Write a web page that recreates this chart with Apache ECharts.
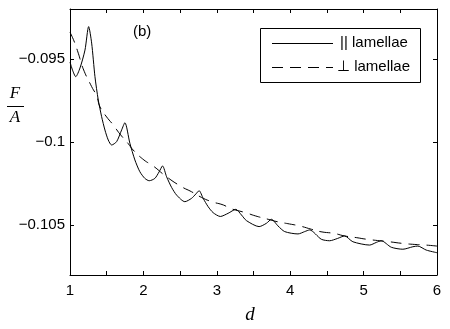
<!DOCTYPE html>
<html><head><meta charset="utf-8">
<script src="https://cdn.jsdelivr.net/npm/echarts@6/dist/echarts.min.js"></script>
<style>html,body{margin:0;padding:0;background:#fff}#c{width:450px;height:329px}</style>
</head><body><div id="c"></div>
<script>
// || lamellae (solid)
const parD = [1.0,1.034,1.078,1.136,1.204,1.254,1.295,1.340,1.385,1.431,1.476,1.521,1.567,1.635,1.703,1.748,
  1.816,1.884,1.952,2.020,2.079,2.156,2.215,2.261,2.316,2.384,2.452,2.565,2.656,2.714,2.759,
  2.814,2.882,2.950,3.048,3.154,3.259,3.336,3.404,3.576,3.676,3.744,3.834,3.925,4.106,4.197,4.265,
  4.424,4.537,4.646,4.741,4.854,5.082,5.173,5.241,5.377,5.535,5.671,5.739,5.853,6.0];
const parF = [-0.09519,-0.09567,-0.09607,-0.09555,-0.09447,-0.09306,-0.09405,-0.09607,-0.09747,-0.09848,-0.09928,-0.09988,-0.10018,-0.09998,-0.09928,-0.09884,
  -0.10008,-0.10108,-0.10179,-0.10219,-0.10233,-0.10219,-0.10179,-0.10144,-0.10209,-0.10273,-0.10319,-0.10359,-0.10339,-0.10313,-0.10293,
  -0.10339,-0.10389,-0.10425,-0.10448,-0.10429,-0.10405,-0.10439,-0.10473,-0.10509,-0.10489,-0.10465,-0.10505,-0.10539,-0.10553,-0.10539,-0.10529,
  -0.10585,-0.10594,-0.10580,-0.10565,-0.10600,-0.10620,-0.10604,-0.10594,-0.10633,-0.10645,-0.10630,-0.10626,-0.10650,-0.10666];
// ⊥ lamellae (dashed)
const perD = [1.0,1.054,1.113,1.18,1.295,1.363,1.408,1.49,1.59,1.68,1.79,1.86,2.007,2.133,2.315,2.52,2.655,2.79,2.93,
  3.09,3.18,3.39,3.53,3.70,3.83,3.99,4.13,4.29,4.42,4.6,4.74,4.9,5.04,5.22,5.35,5.53,5.69,5.85,6.0];
const perF = [-0.0934,-0.09392,-0.09466,-0.0956,-0.09667,-0.09723,-0.09788,-0.09844,-0.09898,-0.09952,-0.10008,-0.10048,-0.10108,-0.10144,-0.10209,-0.10269,-0.10299,-0.10333,-0.10359,
  -0.10379,-0.10399,-0.10425,-0.10445,-0.10465,-0.1048,-0.10493,-0.10505,-0.10525,-0.1054,-0.1055,-0.10565,-0.10575,-0.10585,-0.10594,-0.106,-0.1061,-0.10616,-0.1062,-0.10626];
const xTickLabels = [1,2,3,4,5,6];
const yTickLabels = [-0.105,-0.1,-0.095];
const seriesNames = ['|| lamellae','\u22A5 lamellae'];

const chart = echarts.init(document.getElementById('c'), null, {renderer:'canvas'});
const sans = 'Liberation Sans, Arial, sans-serif';
const serif = 'Liberation Serif, Times New Roman, serif';
const fmtY = v => '\u2212' + String(Math.abs(v));
const baseX = {type:'value', min:1, max:6, interval:0.5,
  axisLine:{show:true, onZero:false, lineStyle:{color:'#000', width:1}},
  axisTick:{show:true, inside:true, length:4, lineStyle:{color:'#000'}},
  splitLine:{show:false}};
const baseY = {type:'value', min:-0.108, max:-0.092, interval:0.001,
  axisLine:{show:true, onZero:false, lineStyle:{color:'#000', width:1}},
  axisTick:{show:true, inside:true, length:4, customValues:yTickLabels, lineStyle:{color:'#000'}},
  splitLine:{show:false}};
chart.setOption({
  animation:false,
  backgroundColor:'#fff',
  grid:{left:70, right:13, top:9, bottom:54, containLabel:false},
  xAxis:[
    Object.assign({}, baseX, {position:'bottom',
      axisLabel:{show:true, customValues:xTickLabels, formatter:v=>String(v), color:'#000', fontFamily:sans, fontSize:15, margin:8}}),
    Object.assign({}, baseX, {position:'top', axisLabel:{show:false}})
  ],
  yAxis:[
    Object.assign({}, baseY, {position:'left',
      axisLabel:{show:true, customValues:yTickLabels, formatter:fmtY, color:'#000', fontFamily:sans, fontSize:15, margin:5}}),
    Object.assign({}, baseY, {position:'right', axisLabel:{show:false}})
  ],
  series:[
    {name:seriesNames[0], type:'line', xAxisIndex:0, yAxisIndex:0, showSymbol:false, symbol:'none', smooth:0.25,
      lineStyle:{color:'#000', width:1}, data:parD.map((d,i)=>[d,parF[i]])},
    {name:seriesNames[1], type:'line', xAxisIndex:0, yAxisIndex:0, showSymbol:false, symbol:'none', smooth:true,
      lineStyle:{color:'#000', width:1, type:[11,7]}, data:perD.map((d,i)=>[d,perF[i]])}
  ],
  graphic:[
    {type:'text', x:133, y:32, style:{text:'(b)', font:'15px '+sans, fill:'#000', textVerticalAlign:'middle'}},
    {type:'rect', shape:{x:260.5, y:28.5, width:160, height:54}, style:{fill:'#fff', stroke:'#000', lineWidth:1}},
    {type:'line', shape:{x1:272, y1:43.5, x2:333, y2:43.5}, style:{stroke:'#000', lineWidth:1}},
    {type:'line', shape:{x1:272, y1:67.5, x2:333, y2:67.5}, style:{stroke:'#000', lineWidth:1, lineDash:[11,7]}},
    {type:'text', x:340, y:43, style:{text:seriesNames[0], font:'15px '+sans, fill:'#000', textVerticalAlign:'middle'}},
    {type:'text', x:337, y:67, style:{text:seriesNames[1], font:'15px '+sans, fill:'#000', textVerticalAlign:'middle'}},
    {type:'text', x:250, y:315, style:{text:'d', font:'italic 19px '+serif, fill:'#000', textAlign:'center', textVerticalAlign:'middle'}},
    {type:'text', x:15, y:94, style:{text:'F', font:'italic 17px '+serif, fill:'#000', textAlign:'center', textVerticalAlign:'middle'}},
    {type:'line', shape:{x1:7, y1:106.5, x2:24, y2:106.5}, style:{stroke:'#000', lineWidth:1}},
    {type:'text', x:15, y:118, style:{text:'A', font:'italic 17px '+serif, fill:'#000', textAlign:'center', textVerticalAlign:'middle'}}
  ]
});
</script></body></html>
